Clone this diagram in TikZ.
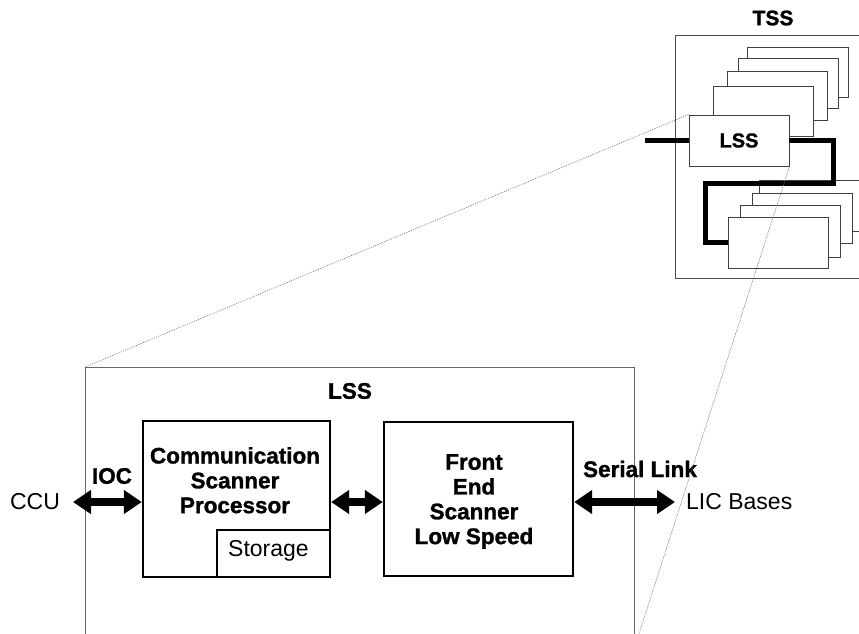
\documentclass[tikz,border=0pt]{standalone}
\usepackage{fontspec}
\setmainfont{Liberation Sans}
\newfontfamily\heavyfont[FakeBold=1.3]{Liberation Sans Bold}
\usetikzlibrary{arrows.meta}
\begin{document}
\begin{tikzpicture}[x=1pt,y=-1pt,
  frame/.style={draw=black!70, line width=0.9pt, inner sep=0pt},
  stackbox/.style={draw=black!75, line width=0.9pt, fill=white, inner sep=0pt,
    minimum width=100pt, minimum height=50pt},
  unit/.style={draw=black, line width=2.4pt, fill=white, inner sep=0pt},
  boldlabel/.style={font=\fontsize{22.5}{24.8}\selectfont\heavyfont, inner sep=0pt, align=center},
  plainlabel/.style={font=\fontsize{23}{26}\selectfont, inner sep=0pt},
  bus/.style={line width=5pt, black},
  zoomline/.style={draw=black!55, line width=0.6pt, dash pattern=on 1.2pt off 1.2pt},
  dblarrow/.style={line width=8pt,
    {Triangle[length=18pt,width=23pt]}-{Triangle[length=18pt,width=23pt]}},
]
\useasboundingbox (0,0) rectangle (859,634);
\clip (0,0) rectangle (859,634);

% ---- TSS enclosure with its stacks of LSS units ----
\node[frame, anchor=north west, minimum width=220pt, minimum height=243pt] (tss) at (675,35) {};
\node[boldlabel, font=\fontsize{21}{24}\selectfont\heavyfont] (tsslabel) at (773,18) {TSS};

% upper stack, back to front
\node[stackbox, minimum width=101pt] (a1) at (797.5,72) {};
\node[stackbox] (a2) at (788,83) {};
\node[stackbox, minimum height=49pt] (a3) at (777,95.5) {};
\node[stackbox] (a4) at (763,111) {};
\node[stackbox, minimum height=51pt, font=\fontsize{20}{24}\selectfont\heavyfont] (lss) at (739,140.5) {LSS};

% lower stack, back to front
\node[stackbox, minimum width=106pt, minimum height=51pt] (b1) at (812,205.5) {};
\node[stackbox] (b2) at (802,218) {};
\node[stackbox, minimum height=52pt] (b3) at (790,231) {};
\node[stackbox, minimum height=51pt] (b4) at (778,242.5) {};

% loop bus through the units
\coordinate (busin) at (645,140.5);
\draw[bus] (busin) -- (lss.west);
\draw[bus] (lss.east) -- (833,140.5) -- (833,183) -- (705,183) -- (705,242.5) -- (b4.west);

% ---- expanded LSS ----
\node[frame, draw=black!60, anchor=north west, minimum width=549pt, minimum height=320pt] (lssframe) at (85,367) {};
\node[boldlabel] (lsslabel) at (350,391) {LSS};

\node[unit, minimum width=187pt, minimum height=156pt] (csp) at (236.5,499) {};
\node[unit, minimum width=113pt, minimum height=47pt] (storage) at (273.5,553.5) {};
\node[plainlabel, anchor=base] (storagetext) at (268.5,556) {Storage};
\node[boldlabel, anchor=north] (csptext) at (235,447) {Communication\\Scanner\\Processor};

\node[unit, minimum width=189pt, minimum height=154pt] (fes) at (478.5,499) {};
\node[boldlabel, anchor=north] (festext) at (474,454) {Front\\End\\Scanner\\Low Speed};

% data paths
\coordinate (ccuend) at (73,502);
\coordinate (licend) at (675,502);
\draw[dblarrow] (ccuend) -- (ccuend -| csp.west);
\draw[dblarrow] (ccuend -| csp.east) -- (ccuend -| fes.west);
\draw[dblarrow] (ccuend -| fes.east) -- (licend);

\node[boldlabel] (ioc) at (112,476) {IOC};
\node[boldlabel] (serial) at (640,469) {Serial Link};
\node[plainlabel] (ccu) at (35,502) {CCU};
\node[plainlabel, anchor=west] (lic) at (686,502) {LIC Bases};

% zoom guide lines from the small LSS to its expansion
\coordinate (zoomfoot) at (637,640);
\draw[zoomline] (lss.north west) -- (lssframe.north west);
\draw[zoomline] (lss.south east) -- (zoomfoot);
\end{tikzpicture}
\end{document}
